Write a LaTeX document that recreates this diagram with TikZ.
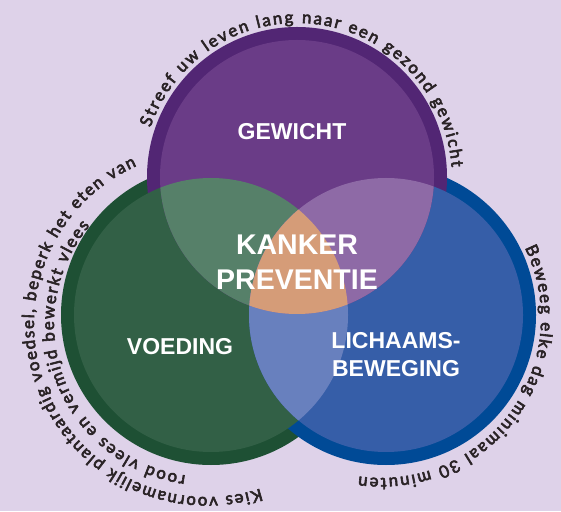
\documentclass[tikz,border=0pt]{standalone}
\usepackage{fontspec}
\setmainfont{Liberation Sans}
\newfontfamily\arcfont{Lato}[FakeBold=3.5]
\usetikzlibrary{calc,decorations.text}
\definecolor{bgcol}{HTML}{DED2E9}
\definecolor{purplering}{HTML}{522674}
\definecolor{purplefill}{HTML}{6A3C87}
\definecolor{greenring}{HTML}{1E5034}
\definecolor{greenfill}{HTML}{326046}
\definecolor{bluering}{HTML}{004A96}
\definecolor{bluefill}{HTML}{365EA8}
\definecolor{gpmix}{HTML}{568069}
\definecolor{pbmix}{HTML}{8E6AA6}
\definecolor{gbmix}{HTML}{6880BE}
\definecolor{coremix}{HTML}{D59C78}
\definecolor{arctext}{HTML}{2A2326}
\begin{document}
\begin{tikzpicture}[x=1pt,y=1pt,
    lbl/.style={text=white,font=\bfseries\fontsize{23}{27.6}\selectfont,align=center,inner sep=0pt},
    biglbl/.style={lbl,font=\bfseries\fontsize{28.5}{35}\selectfont},
    arctxt/.style={decorate,decoration={text along path,text align={fit to path},text color=arctext,text={|\arcfont\fontsize{16.8}{19}\selectfont|#1}}}]
  \fill[bgcol] (0,0) rectangle (561,511);
  \useasboundingbox (0,0) rectangle (561,511);
  % circle centres
  \coordinate (p) at (297,334);
  \coordinate (g) at (211,196);
  \coordinate (b) at (386,196);
  % rings, then fills
  \fill[greenring] (g) circle (150);
  \fill[bluering] (b) circle (150);
  \fill[purplering] (p) circle (150);
  \fill[greenfill] (g) circle (137);
  \fill[bluefill] (b) circle (137);
  \fill[purplefill] (p) circle (137);
  % overlaps
  \begin{scope}
    \clip (g) circle (137);
    \fill[gpmix] (p) circle (137);
    \fill[gbmix] (b) circle (137);
  \end{scope}
  \begin{scope}
    \clip (p) circle (137);
    \fill[pbmix] (b) circle (137);
  \end{scope}
  \begin{scope}
    \clip (g) circle (137);
    \clip (b) circle (137);
    \fill[coremix] (p) circle (137);
  \end{scope}
  % labels
  \node[lbl] (gewicht) at (292,379) {GEWICHT};
  \node[biglbl] (kanker) at (297,248.5) {KANKER\\PREVENTIE};
  \node[lbl] (voeding) at (180,164) {VOEDING};
  \node[lbl] (beweging) at (396,156.5) {LICHAAMS-\\BEWEGING};
  % text round the circles
  \path[arctxt={Streef uw leven lang naar een gezond gewicht}]
    ($(297,333)+(161:155)$) arc[start angle=161,end angle=4,radius=155];
  \path[arctxt={Beweeg elke dag minimaal 30 minuten}]
    ($(381,193)+(26:160)$) arc[start angle=26,end angle=-98,radius=160];
  \path[arctxt={Kies voornamelijk plantaardig voedsel, beperk het eten van}]
    ($(207,187)+(-72:173)$) arc[start angle=-72,end angle=-246,radius=173];
  \path[arctxt={rood vlees en vermijd bewerkt vlees}]
    ($(207,187)+(-98:153)$) arc[start angle=-98,end angle=-220,radius=153];
\end{tikzpicture}
\end{document}
